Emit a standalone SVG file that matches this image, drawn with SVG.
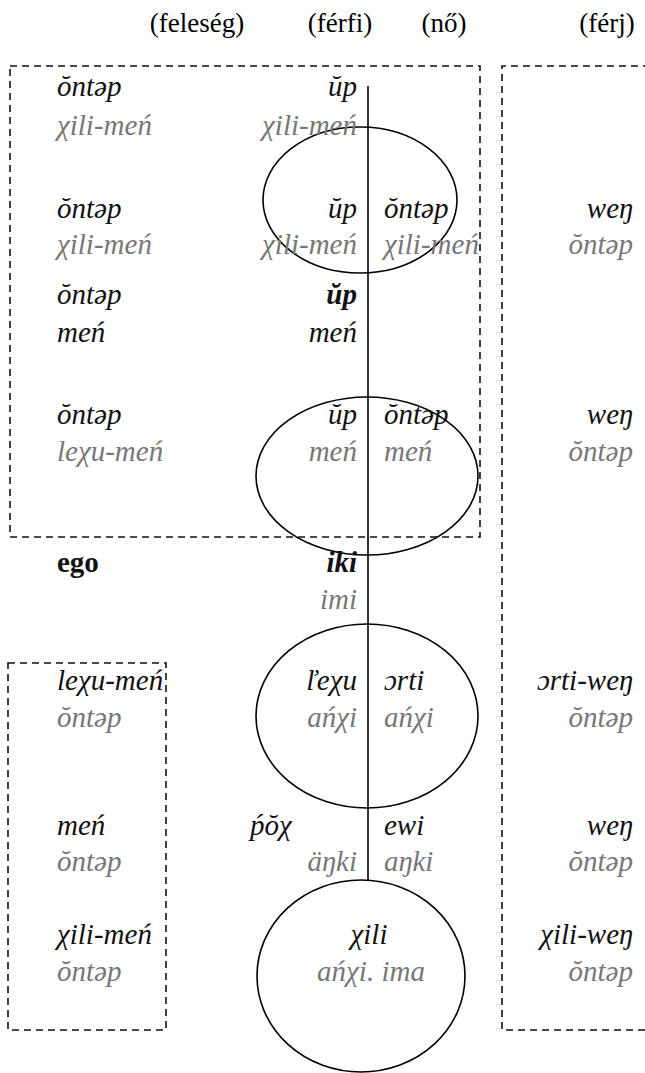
<svg xmlns="http://www.w3.org/2000/svg" width="645" height="1073" viewBox="0 0 645 1073">
<style>
text{font-family:"Liberation Serif","Times New Roman",serif;font-size:29px;}
.h{font-size:27px;font-style:normal;fill:#000;text-anchor:middle;}
.t,.g,.b{font-style:italic;}
.t{fill:#111;}
.g{fill:#777;}
.b{font-weight:bold;fill:#111;}
.e{text-anchor:end;}
.m{text-anchor:middle;}
.box{fill:none;stroke:#111;stroke-width:1.6;stroke-dasharray:7,5;}
.ring{fill:none;stroke:#000;stroke-width:1.6;}
.line{stroke:#000;stroke-width:1.6;}
</style>
<g id="header">
<text class="h" x="197" y="32">(feleség)</text>
<text class="h" x="340" y="32">(férfi)</text>
<text class="h" x="444" y="32">(nő)</text>
<text class="h" x="607" y="32">(férj)</text>
</g>
<g id="boxes">
<rect class="box" x="10" y="66" width="470" height="471"/>
<path class="box" d="M650,66 H502 V1030 H650"/>
<rect class="box" x="8" y="663" width="158" height="367"/>
</g>
<g id="connectors">
<line class="line" x1="368" y1="86" x2="368" y2="880"/>
</g>
<g id="circle1"><ellipse class="ring" cx="360" cy="200" rx="97" ry="73"/></g>
<g id="circle2"><ellipse class="ring" cx="367" cy="476" rx="111" ry="79"/></g>
<g id="circle3"><ellipse class="ring" cx="367" cy="716" rx="111" ry="92"/></g>
<g id="circle4"><ellipse class="ring" cx="361" cy="976" rx="104" ry="96"/></g>
<g id="row1">
<text class="t" x="57" y="96">ŏntəp</text>
<text class="t e" x="357" y="96">ŭp</text>
<text class="g" x="57" y="135">χili-meń</text>
<text class="g e" x="357" y="135">χili-meń</text>
</g>
<g id="row2">
<text class="t" x="57" y="218">ŏntəp</text>
<text class="t e" x="357" y="218">ŭp</text>
<text class="t" x="384" y="218">ŏntəp</text>
<text class="t e" x="633" y="218">weŋ</text>
<text class="g" x="57" y="254">χili-meń</text>
<text class="g e" x="357" y="254">χili-meń</text>
<text class="g" x="384" y="254">χili-meń</text>
<text class="g e" x="633" y="254">ŏntəp</text>
</g>
<g id="row3">
<text class="t" x="57" y="304">ŏntəp</text>
<text class="b e" x="357" y="304">ŭp</text>
<text class="t" x="57" y="342">meń</text>
<text class="t e" x="357" y="342">meń</text>
</g>
<g id="row4">
<text class="t" x="57" y="424">ŏntəp</text>
<text class="t e" x="357" y="424">ŭp</text>
<text class="t" x="384" y="424">ŏntəp</text>
<text class="t e" x="633" y="424">weŋ</text>
<text class="g" x="57" y="461">leχu-meń</text>
<text class="g e" x="357" y="461">meń</text>
<text class="g" x="384" y="461">meń</text>
<text class="g e" x="633" y="461">ŏntəp</text>
</g>
<g id="ego">
<text x="57" y="572" font-size="28" font-weight="bold" fill="#111">ego</text>
<text class="b e" x="357" y="572">iki</text>
<text class="g e" x="357" y="609">imi</text>
</g>
<g id="row5">
<text class="t" x="57" y="690">leχu-meń</text>
<text class="t e" x="357" y="690">ľeχu</text>
<text class="t" x="384" y="690">ɔrti</text>
<text class="t e" x="633" y="690">ɔrti-weŋ</text>
<text class="g" x="57" y="727">ŏntəp</text>
<text class="g e" x="357" y="727">ańχi</text>
<text class="g" x="384" y="727">ańχi</text>
<text class="g e" x="633" y="727">ŏntəp</text>
</g>
<g id="row6">
<text class="t" x="57" y="835">meń</text>
<text class="t" x="250" y="835">ṕŏχ</text>
<text class="t" x="384" y="835">ewi</text>
<text class="t e" x="633" y="835">weŋ</text>
<text class="g" x="57" y="871">ŏntəp</text>
<text class="g e" x="357" y="871">äŋki</text>
<text class="g" x="384" y="871">aŋki</text>
<text class="g e" x="633" y="871">ŏntəp</text>
</g>
<g id="row7">
<text class="t" x="57" y="944">χili-meń</text>
<text class="t m" x="369" y="944">χili</text>
<text class="t e" x="633" y="944">χili-weŋ</text>
<text class="g" x="57" y="981">ŏntəp</text>
<text class="g m" x="371" y="981">ańχi. ima</text>
<text class="g e" x="633" y="981">ŏntəp</text>
</g>
</svg>
